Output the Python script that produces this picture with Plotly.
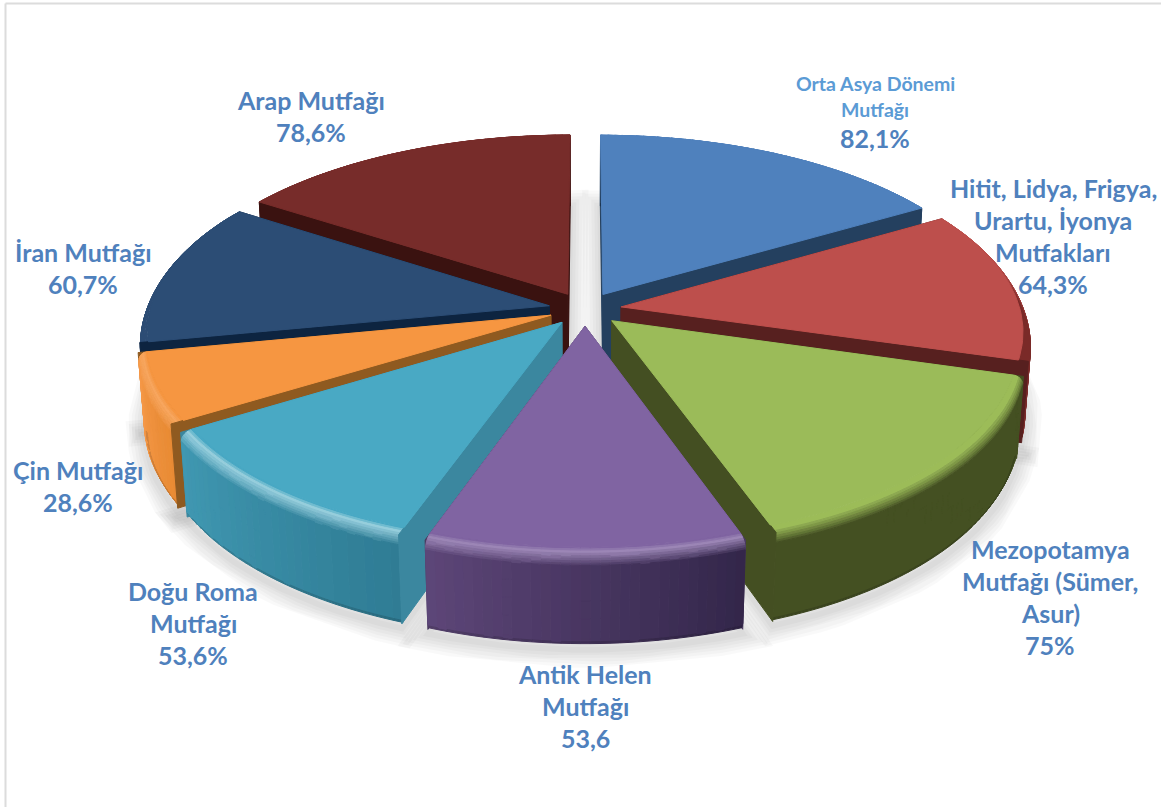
import math
import plotly.graph_objects as go

# Kitchen traditions and their shares, clockwise from twelve o'clock
categories = ["Orta Asya Dönemi Mutfağı", "Hitit, Lidya, Frigya, Urartu, İyonya Mutfakları",
              "Mezopotamya Mutfağı (Sümer, Asur)", "Antik Helen Mutfağı", "Doğu Roma Mutfağı",
              "Çin Mutfağı", "İran Mutfağı", "Arap Mutfağı"]
values = [82.1, 64.3, 75.0, 53.6, 53.6, 28.6, 60.7, 78.6]
value_labels = ["82,1%", "64,3%", "75%", "53,6", "53,6%", "28,6%", "60,7%", "78,6%"]

# Wrapped label lines
label_lines = [["Orta Asya Dönemi", "Mutfağı"], ["Hitit, Lidya, Frigya,", "Urartu, İyonya", "Mutfakları"],
               ["Mezopotamya", "Mutfağı (Sümer,", "Asur)"], ["Antik Helen", "Mutfağı"],
               ["Doğu Roma", "Mutfağı"], ["Çin Mutfağı"], ["İran Mutfağı"], ["Arap Mutfağı"]]
label_centre_x = [875, 1053, 1050, 585, 193, 78, 83, 311]
label_first_y = [83, 188, 549, 674, 591, 470, 252, 100]

# Slice palette: top face, radial cut face, rim at start and end of the arc, highlight strength
top_colors = ["#4f81bd", "#bd4f4c", "#9bbb59", "#8064a2", "#49a9c4", "#f69641", "#2c4d75", "#772c2a"]
cut_colors = ["#24405f", "#57201f", "#444f22", "#4a3a60", "#3b879f", "#8f5a20", "#0d2440", "#3a1210"]
rim_start = ["#24405f", "#7a2a28", "#434f22", "#33264a", "#2f7c94", "#e88a33", "#2c4d75", "#4a1a18"]
rim_end = ["#24405f", "#7a2a28", "#434f22", "#5d4678", "#4098b2", "#f79a4a", "#2c4d75", "#4a1a18"]
highlight = [0.0, 0.0, 0.0, 0.22, 0.42, 0.15, 0.0, 0.0]

# Back-to-front painting order
paint_order = [7, 0, 6, 1, 5, 2, 4, 3]

# Projection of the pie onto the page (pixels)
CX, CY, RX, AY, DEPTH = 585, 309, 405, 188, 80
PERSP_Y, PERSP_D = 0.154, 0.015
EXPLODE = 0.09
BEVEL_R, BEVEL_D = 0.03, 0.11


def project(x, y, d):
    w = 1 + PERSP_Y * y + PERSP_D * d
    return CX + RX * x / w, CY - AY * y / w + DEPTH * d / w


def hex_rgb(c):
    return tuple(int(c[i:i + 2], 16) for i in (1, 3, 5))


def mix(a, b, t):
    return tuple(a[i] + (b[i] - a[i]) * t for i in range(3))


def css(c, step=2):
    return "rgb(%d,%d,%d)" % tuple(min(255, round(v / step) * step) for v in c)


def polygon(pts, fill, line=None, width=1):
    xs = [p[0] for p in pts] + [pts[0][0]]
    ys = [p[1] for p in pts] + [pts[0][1]]
    return go.Scatter(x=xs, y=ys, mode="lines", fill="toself", fillcolor=fill,
                      line=dict(color=line or fill, width=width), hoverinfo="skip",
                      showlegend=False)


total = sum(values)
spans = []
acc = 0.0
for v in values:
    spans.append((acc, acc + v / total * 2 * math.pi))
    acc += v / total * 2 * math.pi


def slice_point(i, r, a, d):
    a0, a1 = spans[i]
    mid = (a0 + a1) / 2
    return project(EXPLODE * math.sin(mid) + r * math.sin(a),
                   EXPLODE * math.cos(mid) + r * math.cos(a), d)


def bevel_at(a):
    return BEVEL_R * max(0.0, min(1.0, 0.5 - math.cos(a)))


def arc(a0, a1, step=0.02):
    n = max(2, int((a1 - a0) / step))
    return [a0 + (a1 - a0) * k / n for k in range(n + 1)]


def cut_face(i, a):
    return polygon([slice_point(i, 0, a, 0), slice_point(i, 1, a, 0),
                    slice_point(i, 1, a, 1), slice_point(i, 0, a, 1)], cut_colors[i])


traces = []

# Soft contact shadow beneath every slice
for i in paint_order:
    a0, a1 = spans[i]
    angles = arc(a0, a1, 0.05)
    outline = [slice_point(i, 0, a0, 1.05)] + [slice_point(i, 1, a, 1.05) for a in angles]
    for width in (36, 30, 24, 18, 12, 6):
        xs = [p[0] for p in outline] + [outline[0][0]]
        ys = [p[1] for p in outline] + [outline[0][1]]
        traces.append(go.Scatter(x=xs, y=ys, mode="lines", line=dict(color="rgba(0,0,0,0.024)", width=width),
                                 hoverinfo="skip", showlegend=False))

for i in paint_order:
    a0, a1 = spans[i]
    top = hex_rgb(top_colors[i])
    hi = mix(top, (255, 255, 255), highlight[i])
    start, end = hex_rgb(rim_start[i]), hex_rgb(rim_end[i])
    angles = arc(a0, a1)

    # Cut faces turned away from the viewer go under the rim, the facing one over it.
    # A slice straddling the bottom of the pie shows neither.
    faces_under, faces_over = [a0, a1], []
    if a1 <= math.pi:
        faces_under, faces_over = [a0], [a1]
    elif a0 >= math.pi:
        faces_under, faces_over = [a1], [a0]
    for a in faces_under:
        traces.append(cut_face(i, a))

    # Rim: profile rows from the bevelled top edge to the rounded bottom edge
    rows = [(s / 8, "bevel") for s in range(9)]
    side_stops = [0.3, 0.5, 0.7, 0.85, 0.93, 0.97, 1.0]
    rows += [(s, "side") for s in side_stops]

    def profile(a, row):
        s, kind = row
        b = bevel_at(a)
        if kind == "bevel":
            ang = s * math.pi / 2
            return 1 - b + b * math.sin(ang), BEVEL_D * (1 - math.cos(ang))
        return 1 - 0.006 * max(0.0, s - 0.93) / 0.07, s

    def shade(u, row):
        s, kind = row
        side = mix(start, end, u)
        if kind == "bevel":
            if s < 0.25:
                return mix(top, hi, s / 0.25)
            return mix(hi, side, (s - 0.25) / 0.75)
        if s > 0.93:
            return mix(side, (0, 0, 0), 0.25 * (s - 0.93) / 0.07)
        return side

    buckets = {}
    for k in range(len(angles) - 1):
        u = (k + 0.5) / (len(angles) - 1)
        a, b = angles[k], angles[k + 1]
        for j in range(len(rows) - 1):
            r00, d00 = profile(a, rows[j])
            r10, d10 = profile(b, rows[j])
            r11, d11 = profile(b, rows[j + 1])
            r01, d01 = profile(a, rows[j + 1])
            quad = [slice_point(i, r00, a, d00), slice_point(i, r10, b, d10),
                    slice_point(i, r11, b, d11), slice_point(i, r01, a, d01)]
            colour = css(shade(u, rows[j]))
            buckets.setdefault(colour, []).append(quad)
    for colour, quads in buckets.items():
        xs, ys = [], []
        for q in quads:
            xs += [p[0] for p in q] + [q[0][0], None]
            ys += [p[1] for p in q] + [q[0][1], None]
        traces.append(go.Scatter(x=xs, y=ys, mode="lines", fill="toself", fillcolor=colour,
                                 line=dict(color=colour, width=1), hoverinfo="skip", showlegend=False))

    for a in faces_over:
        traces.append(cut_face(i, a))

    # Flat top face
    traces.append(polygon([slice_point(i, 0, a0, 0)] +
                          [slice_point(i, 1 - bevel_at(a), a, 0) for a in angles], top_colors[i]))

fig = go.Figure(traces)

# Labels, one annotation per line so the leading stays even
LEADING = 32
TEXT_BLUE = "#4f81bd"
for i, lines in enumerate(label_lines):
    y = label_first_y[i]
    for n, line in enumerate(lines):
        small = i == 0
        fig.add_annotation(x=label_centre_x[i], y=y, text="<b>%s</b>" % line, showarrow=False,
                           xanchor="center", yanchor="middle",
                           font=dict(family="Lato", size=19.5 if small else 25,
                                     color="#5b9bd5" if small else TEXT_BLUE))
        y += 26 if small else LEADING
    y += 3 if i == 0 else 0
    fig.add_annotation(x=label_centre_x[i], y=y, text="<b>%s</b>" % value_labels[i], showarrow=False,
                       xanchor="center", yanchor="middle",
                       font=dict(family="Lato", size=25, color=TEXT_BLUE))

# Thin frame along the top and left edges
frame = dict(type="line", line=dict(color="#dcdcdc", width=2), layer="below")
fig.add_shape(x0=5.5, x1=5.5, y0=3.5, y1=807, **frame)
fig.add_shape(x0=5.5, x1=1161, y0=3.5, y1=3.5, **frame)

fig.update_layout(width=1161, height=807, margin=dict(l=0, r=0, t=0, b=0),
                  paper_bgcolor="white", plot_bgcolor="white", showlegend=False,
                  xaxis=dict(range=[0, 1161], visible=False, fixedrange=True),
                  yaxis=dict(range=[807, 0], visible=False, fixedrange=True))
fig.write_html("out.html", config=dict(displayModeBar=False))
